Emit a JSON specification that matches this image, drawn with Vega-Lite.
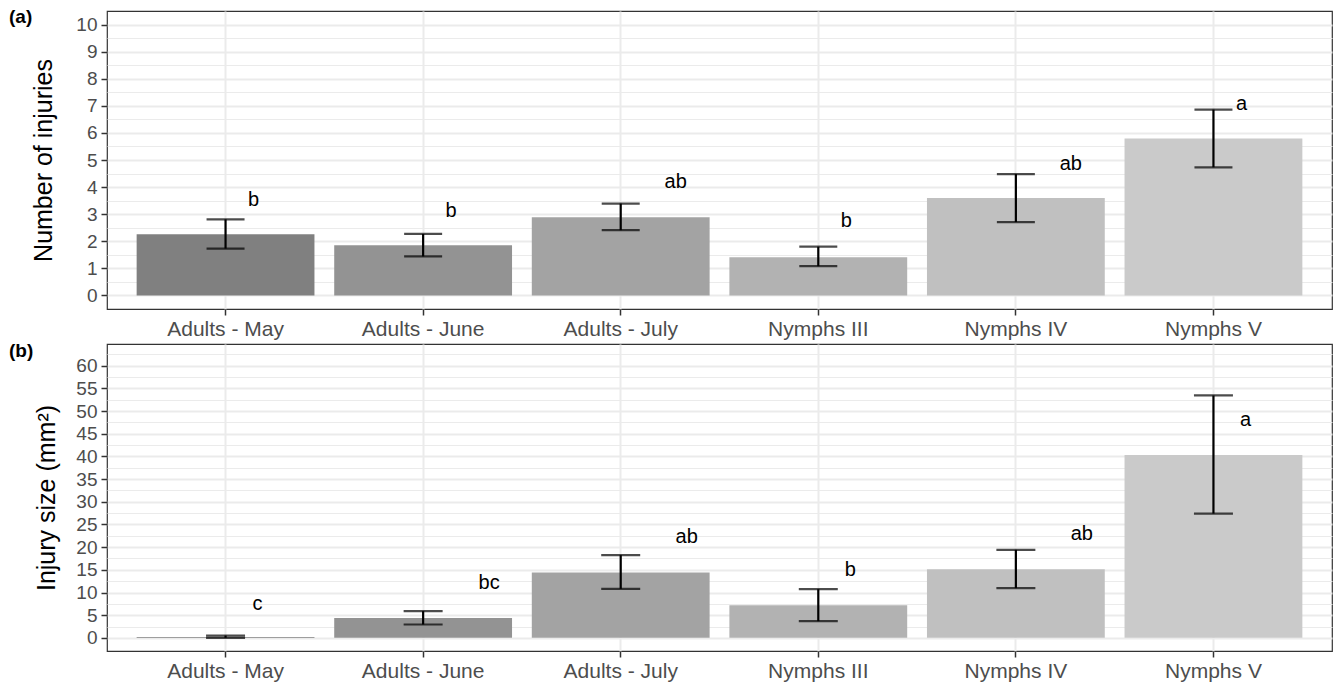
{
  "$schema": "https://vega.github.io/schema/vega-lite/v6.json",
  "padding": {"left": 8, "top": 7, "right": 2, "bottom": 0},
  "spacing": 1,
  "background": "white",
  "config": {
    "view": {"stroke": "#333333", "strokeWidth": 1.2},
    "font": "Liberation Sans",
    "axis": {
      "domain": false,
      "tickColor": "#333333",
      "tickWidth": 1.5,
      "tickSize": 6,
      "labelColor": "#4d4d4d",
      "labelFont": "Liberation Sans",
      "titleFont": "Liberation Sans",
      "titleColor": "#000000",
      "titleFontWeight": "normal",
      "gridColor": "#ebebeb",
      "labelOverlap": false
    },
    "title": {"font": "Liberation Sans", "fontWeight": "bold", "fontSize": 19, "color": "#000000"}
  },
  "datasets": {
    "injuries": [
      {"group": "Adults - May", "mean": 2.26, "lo": 1.73, "hi": 2.81, "label": "b", "label_y": 3.52},
      {"group": "Adults - June", "mean": 1.85, "lo": 1.44, "hi": 2.27, "label": "b", "label_y": 3.13},
      {"group": "Adults - July", "mean": 2.89, "lo": 2.41, "hi": 3.39, "label": "ab", "label_y": 4.17},
      {"group": "Nymphs III", "mean": 1.41, "lo": 1.08, "hi": 1.8, "label": "b", "label_y": 2.74},
      {"group": "Nymphs IV", "mean": 3.6, "lo": 2.71, "hi": 4.48, "label": "ab", "label_y": 4.87},
      {"group": "Nymphs V", "mean": 5.79, "lo": 4.73, "hi": 6.86, "label": "a", "label_y": 7.06}
    ],
    "size": [
      {"group": "Adults - May", "mean": 0.2, "lo": 0.0, "hi": 0.5, "label": "c", "label_y": 7.57},
      {"group": "Adults - June", "mean": 4.35, "lo": 2.94, "hi": 5.89, "label": "bc", "label_y": 12.07},
      {"group": "Adults - July", "mean": 14.4, "lo": 10.8, "hi": 18.24, "label": "ab", "label_y": 22.3},
      {"group": "Nymphs III", "mean": 7.21, "lo": 3.68, "hi": 10.74, "label": "b", "label_y": 14.93},
      {"group": "Nymphs IV", "mean": 15.15, "lo": 10.96, "hi": 19.4, "label": "ab", "label_y": 22.9},
      {"group": "Nymphs V", "mean": 40.3, "lo": 27.4, "hi": 53.45, "label": "a", "label_y": 48.0}
    ]
  },
  "vconcat": [
    {
      "width": 1225,
      "height": 298,
      "title": {"text": "(a)", "anchor": "start", "frame": "group", "dx": -98, "offset": -16},
      "data": {"name": "injuries"},
      "encoding": {
        "x": {
          "field": "group", "type": "nominal",
          "sort": ["Adults - May", "Adults - June", "Adults - July", "Nymphs III", "Nymphs IV", "Nymphs V"],
          "scale": {"paddingInner": 0.1, "paddingOuter": 0.15},
          "axis": {"title": null, "labelAngle": 0, "labelFontSize": 21, "labelPadding": 3, "grid": true, "gridWidth": 2, "bandPosition": 0.5}
        }
      },
      "layer": [
        {
          "mark": {"type": "bar"},
          "encoding": {
            "y": {
              "field": "mean", "type": "quantitative",
              "scale": {"domain": [-0.5, 10.5], "nice": false, "zero": false},
              "axis": {
                "title": "Number of injuries", "titleFontSize": 25, "titlePadding": 19,
                "labelFontSize": 19, "labelPadding": 4,
                "values": [0, 0.5, 1, 1.5, 2, 2.5, 3, 3.5, 4, 4.5, 5, 5.5, 6, 6.5, 7, 7.5, 8, 8.5, 9, 9.5, 10],
                "labelExpr": "datum.value % 1 == 0 ? format(datum.value, 'd') : ''",
                "tickOpacity": {"condition": {"test": "datum.value % 1 != 0", "value": 0}, "value": 1},
                "gridWidth": {"condition": {"test": "datum.value % 1 != 0", "value": 1.2}, "value": 2}
              }
            },
            "y2": {"datum": 0},
            "fill": {
              "field": "group", "type": "nominal", "legend": null,
              "scale": {
                "domain": ["Adults - May", "Adults - June", "Adults - July", "Nymphs III", "Nymphs IV", "Nymphs V"],
                "range": ["#808080", "#939393", "#a3a3a3", "#b2b2b2", "#c0c0c0", "#cacaca"]
              }
            }
          }
        },
        {
          "mark": {"type": "rule", "strokeWidth": 2.2, "color": "#000000"},
          "encoding": {
            "y": {"field": "lo", "type": "quantitative", "axis": {
                "title": "Number of injuries", "titleFontSize": 25, "titlePadding": 19,
                "labelFontSize": 19, "labelPadding": 4,
                "values": [0, 0.5, 1, 1.5, 2, 2.5, 3, 3.5, 4, 4.5, 5, 5.5, 6, 6.5, 7, 7.5, 8, 8.5, 9, 9.5, 10],
                "labelExpr": "datum.value % 1 == 0 ? format(datum.value, 'd') : ''",
                "tickOpacity": {"condition": {"test": "datum.value % 1 != 0", "value": 0}, "value": 1},
                "gridWidth": {"condition": {"test": "datum.value % 1 != 0", "value": 1.2}, "value": 2}
              }},
            "y2": {"field": "hi"}
          }
        },
        {
          "mark": {"type": "tick", "size": 38, "thickness": 2.2, "color": "#000000", "orient": "horizontal"},
          "encoding": {"y": {"field": "lo", "type": "quantitative", "axis": {
                "title": "Number of injuries", "titleFontSize": 25, "titlePadding": 19,
                "labelFontSize": 19, "labelPadding": 4,
                "values": [0, 0.5, 1, 1.5, 2, 2.5, 3, 3.5, 4, 4.5, 5, 5.5, 6, 6.5, 7, 7.5, 8, 8.5, 9, 9.5, 10],
                "labelExpr": "datum.value % 1 == 0 ? format(datum.value, 'd') : ''",
                "tickOpacity": {"condition": {"test": "datum.value % 1 != 0", "value": 0}, "value": 1},
                "gridWidth": {"condition": {"test": "datum.value % 1 != 0", "value": 1.2}, "value": 2}
              }}}
        },
        {
          "mark": {"type": "tick", "size": 38, "thickness": 2.2, "color": "#000000", "orient": "horizontal"},
          "encoding": {"y": {"field": "hi", "type": "quantitative", "axis": {
                "title": "Number of injuries", "titleFontSize": 25, "titlePadding": 19,
                "labelFontSize": 19, "labelPadding": 4,
                "values": [0, 0.5, 1, 1.5, 2, 2.5, 3, 3.5, 4, 4.5, 5, 5.5, 6, 6.5, 7, 7.5, 8, 8.5, 9, 9.5, 10],
                "labelExpr": "datum.value % 1 == 0 ? format(datum.value, 'd') : ''",
                "tickOpacity": {"condition": {"test": "datum.value % 1 != 0", "value": 0}, "value": 1},
                "gridWidth": {"condition": {"test": "datum.value % 1 != 0", "value": 1.2}, "value": 2}
              }}}
        },
        {
          "transform": [{"filter": "length(datum.label) == 1"}],
          "mark": {"type": "text", "fontSize": 20, "color": "#000000", "align": "center", "baseline": "middle", "dx": 28},
          "encoding": {"y": {"field": "label_y", "type": "quantitative", "axis": {
                "title": "Number of injuries", "titleFontSize": 25, "titlePadding": 19,
                "labelFontSize": 19, "labelPadding": 4,
                "values": [0, 0.5, 1, 1.5, 2, 2.5, 3, 3.5, 4, 4.5, 5, 5.5, 6, 6.5, 7, 7.5, 8, 8.5, 9, 9.5, 10],
                "labelExpr": "datum.value % 1 == 0 ? format(datum.value, 'd') : ''",
                "tickOpacity": {"condition": {"test": "datum.value % 1 != 0", "value": 0}, "value": 1},
                "gridWidth": {"condition": {"test": "datum.value % 1 != 0", "value": 1.2}, "value": 2}
              }}, "text": {"field": "label"}}
        },
        {
          "transform": [{"filter": "length(datum.label) == 2"}],
          "mark": {"type": "text", "fontSize": 20, "color": "#000000", "align": "center", "baseline": "middle", "dx": 55},
          "encoding": {"y": {"field": "label_y", "type": "quantitative", "axis": {
                "title": "Number of injuries", "titleFontSize": 25, "titlePadding": 19,
                "labelFontSize": 19, "labelPadding": 4,
                "values": [0, 0.5, 1, 1.5, 2, 2.5, 3, 3.5, 4, 4.5, 5, 5.5, 6, 6.5, 7, 7.5, 8, 8.5, 9, 9.5, 10],
                "labelExpr": "datum.value % 1 == 0 ? format(datum.value, 'd') : ''",
                "tickOpacity": {"condition": {"test": "datum.value % 1 != 0", "value": 0}, "value": 1},
                "gridWidth": {"condition": {"test": "datum.value % 1 != 0", "value": 1.2}, "value": 2}
              }}, "text": {"field": "label"}}
        }
      ]
    },
    {
      "width": 1225,
      "height": 307,
      "title": {"text": "(b)", "anchor": "start", "frame": "group", "dx": -98, "offset": -17},
      "data": {"name": "size"},
      "encoding": {
        "x": {
          "field": "group", "type": "nominal",
          "sort": ["Adults - May", "Adults - June", "Adults - July", "Nymphs III", "Nymphs IV", "Nymphs V"],
          "scale": {"paddingInner": 0.1, "paddingOuter": 0.15},
          "axis": {"title": null, "labelAngle": 0, "labelFontSize": 21, "labelPadding": 3, "grid": true, "gridWidth": 2, "bandPosition": 0.5}
        }
      },
      "layer": [
        {
          "mark": {"type": "bar"},
          "encoding": {
            "y": {
              "field": "mean", "type": "quantitative",
              "scale": {"domain": [-2.9, 64.8], "nice": false, "zero": false},
              "axis": {
                "title": "Injury size (mm²)", "titleFontSize": 25, "titlePadding": 16,
                "labelFontSize": 19, "labelPadding": 4,
                "values": [0, 2.5, 5, 7.5, 10, 12.5, 15, 17.5, 20, 22.5, 25, 27.5, 30, 32.5, 35, 37.5, 40, 42.5, 45, 47.5, 50, 52.5, 55, 57.5, 60, 62.5],
                "labelExpr": "datum.value % 5 == 0 ? format(datum.value, 'd') : ''",
                "tickOpacity": {"condition": {"test": "datum.value % 5 != 0", "value": 0}, "value": 1},
                "gridWidth": {"condition": {"test": "datum.value % 5 != 0", "value": 1.2}, "value": 2}
              }
            },
            "y2": {"datum": 0},
            "fill": {
              "field": "group", "type": "nominal", "legend": null,
              "scale": {
                "domain": ["Adults - May", "Adults - June", "Adults - July", "Nymphs III", "Nymphs IV", "Nymphs V"],
                "range": ["#808080", "#939393", "#a3a3a3", "#b2b2b2", "#c0c0c0", "#cacaca"]
              }
            }
          }
        },
        {
          "mark": {"type": "rule", "strokeWidth": 2.2, "color": "#000000"},
          "encoding": {
            "y": {"field": "lo", "type": "quantitative", "axis": {
                "title": "Injury size (mm²)", "titleFontSize": 25, "titlePadding": 16,
                "labelFontSize": 19, "labelPadding": 4,
                "values": [0, 2.5, 5, 7.5, 10, 12.5, 15, 17.5, 20, 22.5, 25, 27.5, 30, 32.5, 35, 37.5, 40, 42.5, 45, 47.5, 50, 52.5, 55, 57.5, 60, 62.5],
                "labelExpr": "datum.value % 5 == 0 ? format(datum.value, 'd') : ''",
                "tickOpacity": {"condition": {"test": "datum.value % 5 != 0", "value": 0}, "value": 1},
                "gridWidth": {"condition": {"test": "datum.value % 5 != 0", "value": 1.2}, "value": 2}
              }},
            "y2": {"field": "hi"}
          }
        },
        {
          "mark": {"type": "tick", "size": 39, "thickness": 2.2, "color": "#000000", "orient": "horizontal"},
          "encoding": {"y": {"field": "lo", "type": "quantitative", "axis": {
                "title": "Injury size (mm²)", "titleFontSize": 25, "titlePadding": 16,
                "labelFontSize": 19, "labelPadding": 4,
                "values": [0, 2.5, 5, 7.5, 10, 12.5, 15, 17.5, 20, 22.5, 25, 27.5, 30, 32.5, 35, 37.5, 40, 42.5, 45, 47.5, 50, 52.5, 55, 57.5, 60, 62.5],
                "labelExpr": "datum.value % 5 == 0 ? format(datum.value, 'd') : ''",
                "tickOpacity": {"condition": {"test": "datum.value % 5 != 0", "value": 0}, "value": 1},
                "gridWidth": {"condition": {"test": "datum.value % 5 != 0", "value": 1.2}, "value": 2}
              }}}
        },
        {
          "mark": {"type": "tick", "size": 39, "thickness": 2.2, "color": "#000000", "orient": "horizontal"},
          "encoding": {"y": {"field": "hi", "type": "quantitative", "axis": {
                "title": "Injury size (mm²)", "titleFontSize": 25, "titlePadding": 16,
                "labelFontSize": 19, "labelPadding": 4,
                "values": [0, 2.5, 5, 7.5, 10, 12.5, 15, 17.5, 20, 22.5, 25, 27.5, 30, 32.5, 35, 37.5, 40, 42.5, 45, 47.5, 50, 52.5, 55, 57.5, 60, 62.5],
                "labelExpr": "datum.value % 5 == 0 ? format(datum.value, 'd') : ''",
                "tickOpacity": {"condition": {"test": "datum.value % 5 != 0", "value": 0}, "value": 1},
                "gridWidth": {"condition": {"test": "datum.value % 5 != 0", "value": 1.2}, "value": 2}
              }}}
        },
        {
          "transform": [{"filter": "length(datum.label) == 1"}],
          "mark": {"type": "text", "fontSize": 20, "color": "#000000", "align": "center", "baseline": "middle", "dx": 32},
          "encoding": {"y": {"field": "label_y", "type": "quantitative", "axis": {
                "title": "Injury size (mm²)", "titleFontSize": 25, "titlePadding": 16,
                "labelFontSize": 19, "labelPadding": 4,
                "values": [0, 2.5, 5, 7.5, 10, 12.5, 15, 17.5, 20, 22.5, 25, 27.5, 30, 32.5, 35, 37.5, 40, 42.5, 45, 47.5, 50, 52.5, 55, 57.5, 60, 62.5],
                "labelExpr": "datum.value % 5 == 0 ? format(datum.value, 'd') : ''",
                "tickOpacity": {"condition": {"test": "datum.value % 5 != 0", "value": 0}, "value": 1},
                "gridWidth": {"condition": {"test": "datum.value % 5 != 0", "value": 1.2}, "value": 2}
              }}, "text": {"field": "label"}}
        },
        {
          "transform": [{"filter": "length(datum.label) == 2"}],
          "mark": {"type": "text", "fontSize": 20, "color": "#000000", "align": "center", "baseline": "middle", "dx": 66},
          "encoding": {"y": {"field": "label_y", "type": "quantitative", "axis": {
                "title": "Injury size (mm²)", "titleFontSize": 25, "titlePadding": 16,
                "labelFontSize": 19, "labelPadding": 4,
                "values": [0, 2.5, 5, 7.5, 10, 12.5, 15, 17.5, 20, 22.5, 25, 27.5, 30, 32.5, 35, 37.5, 40, 42.5, 45, 47.5, 50, 52.5, 55, 57.5, 60, 62.5],
                "labelExpr": "datum.value % 5 == 0 ? format(datum.value, 'd') : ''",
                "tickOpacity": {"condition": {"test": "datum.value % 5 != 0", "value": 0}, "value": 1},
                "gridWidth": {"condition": {"test": "datum.value % 5 != 0", "value": 1.2}, "value": 2}
              }}, "text": {"field": "label"}}
        }
      ]
    }
  ]
}
